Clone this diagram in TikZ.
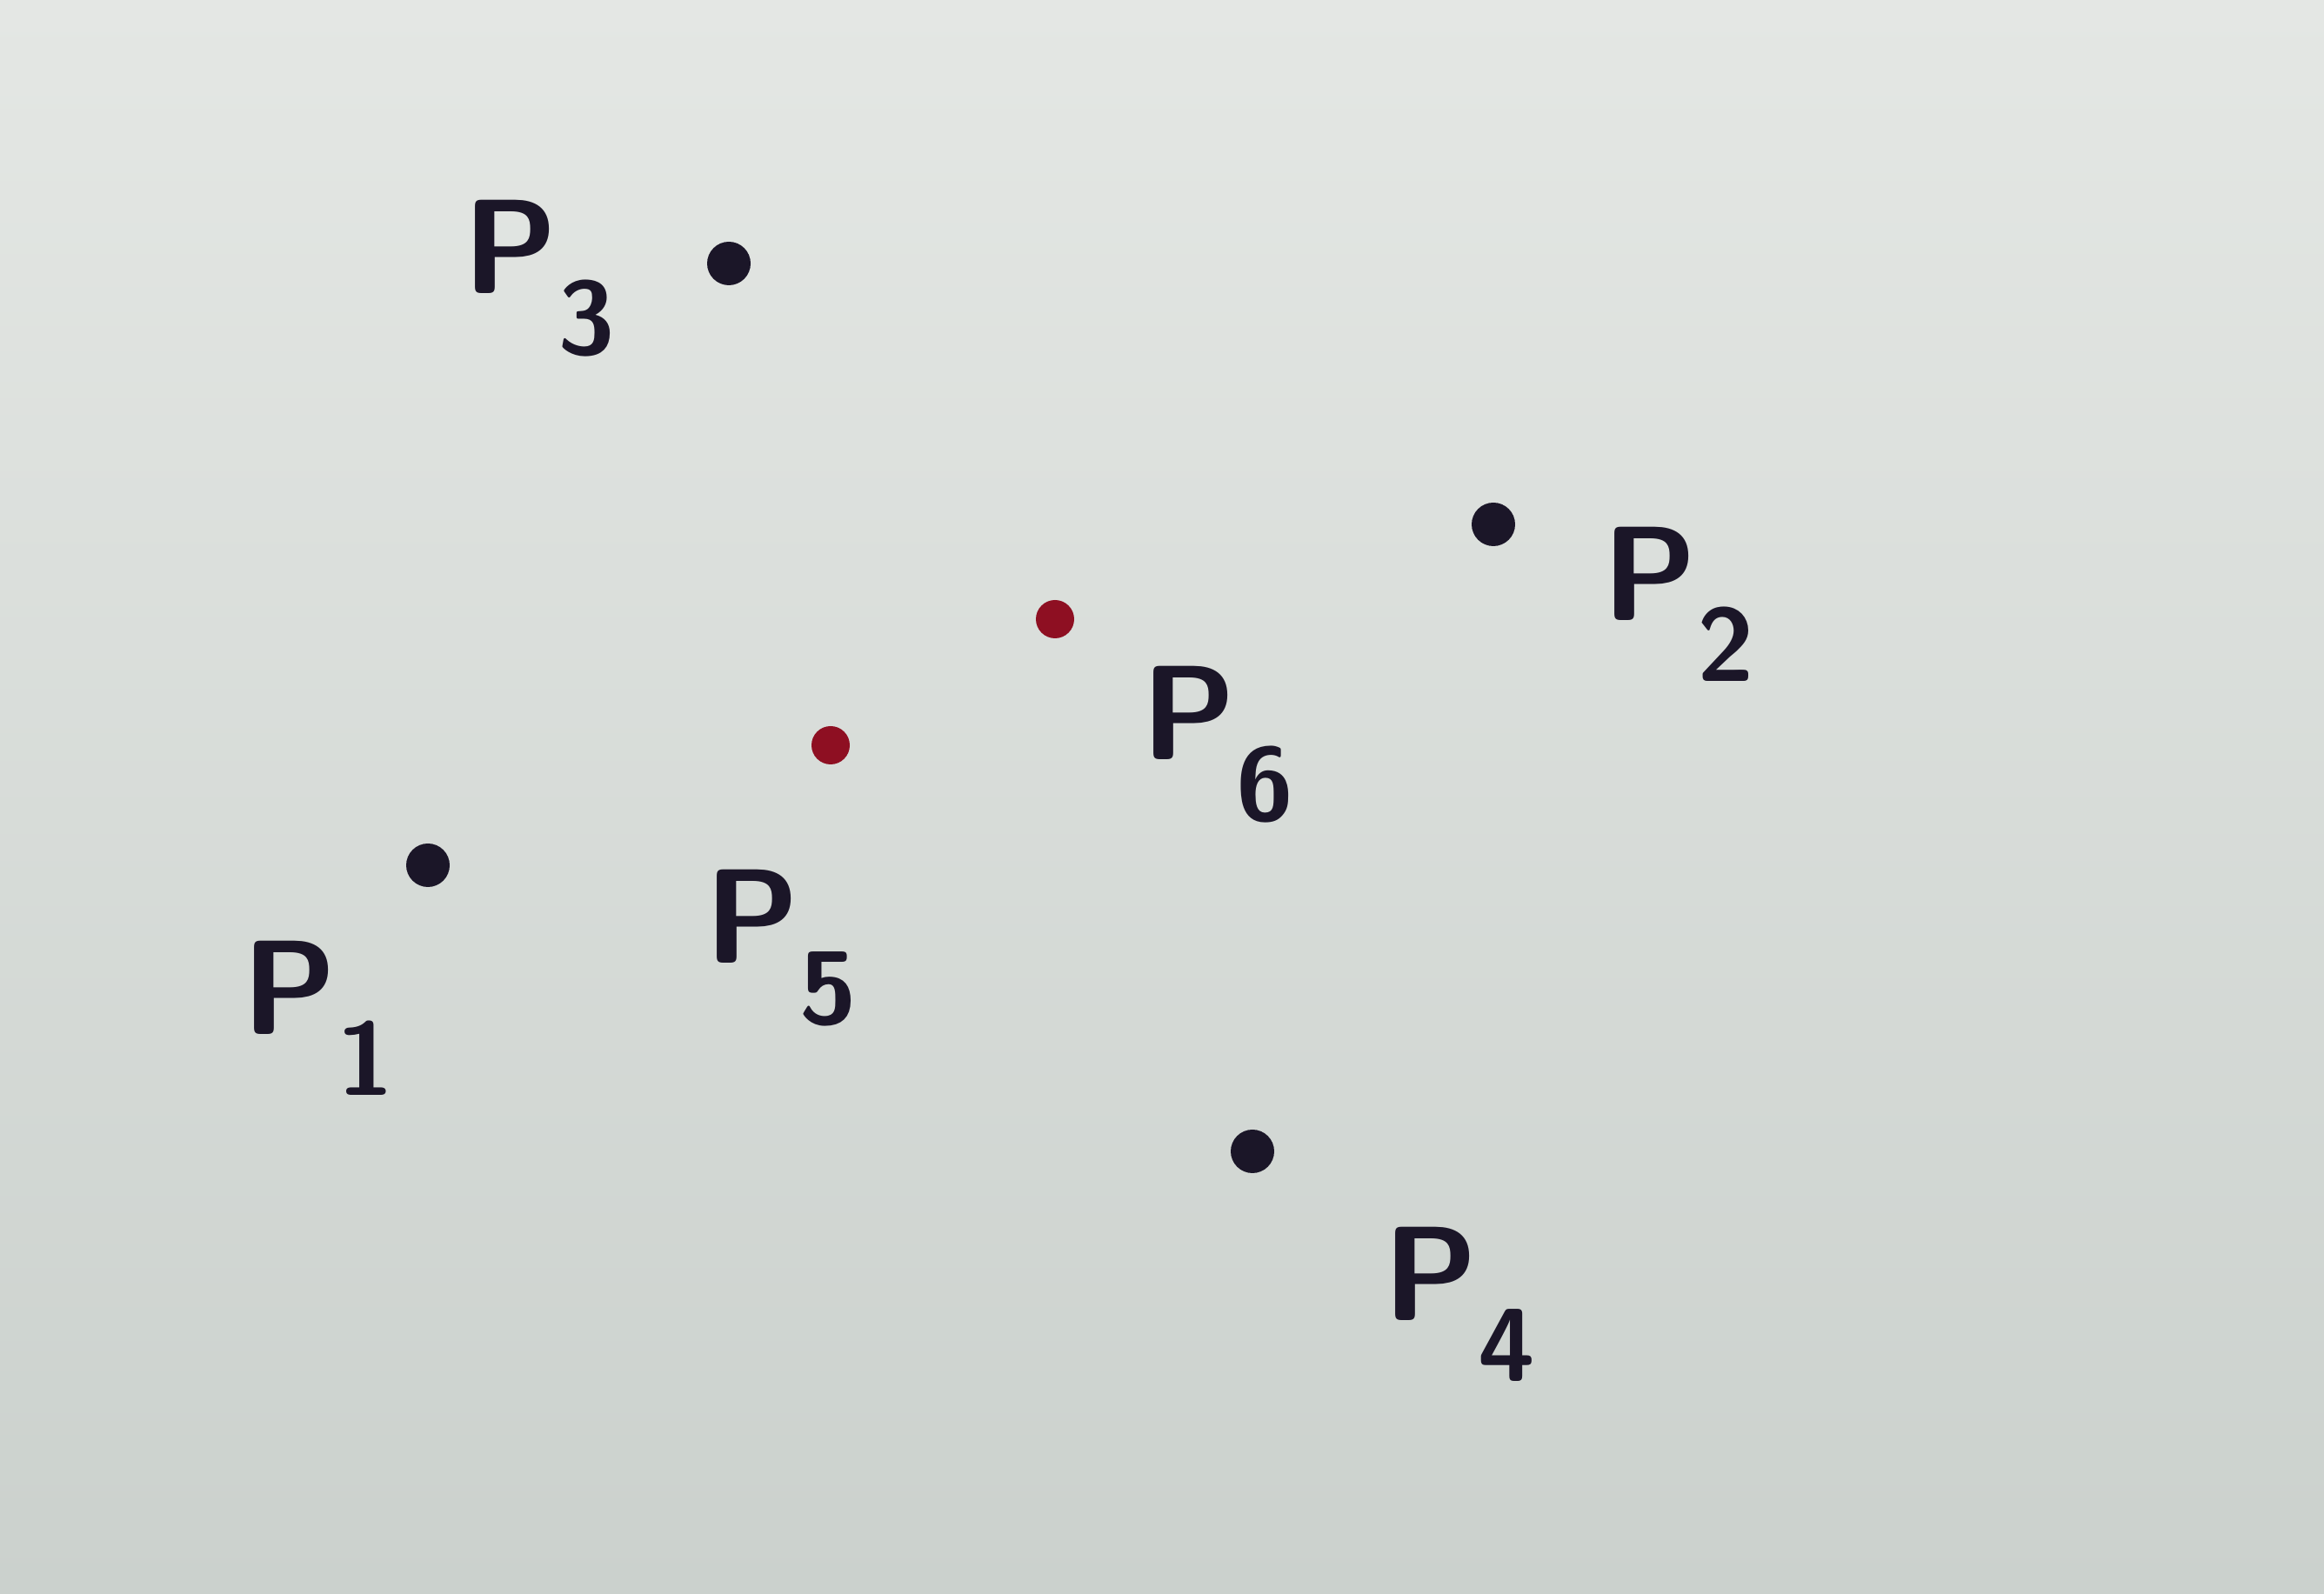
\documentclass[tikz,border=0pt]{standalone}
\usepackage{tikz}
\usetikzlibrary{calc}
\definecolor{paperlight}{RGB}{228,231,228}
\definecolor{paperdark}{RGB}{203,209,205}
\definecolor{inkblack}{HTML}{1B1628}
\definecolor{inkred}{HTML}{8E0F22}
\newcommand{\psub}[1]{\raisebox{-0.45em}{\fontsize{34}{40}\selectfont #1}}
\tikzset{
  pt/.style={circle,fill=#1,inner sep=0pt,minimum size=0.5cm},
  ptlabel/.style={text=inkblack,font=\fontsize{44}{52}\selectfont\sffamily\bfseries}
}

\begin{document}
\begin{tikzpicture}
    \shade[top color=paperlight,bottom color=paperdark] (0,0) rectangle (26.72,18.33);
    \useasboundingbox (0,0) rectangle (26.72,18.33);
    % black points
    \node[pt=inkblack] (p1) at (4.92,8.38) {};
    \node[pt=inkblack] (p2) at (17.17,12.30) {};
    \node[pt=inkblack] (p3) at (8.38,15.30) {};
    \node[pt=inkblack] (p4) at (14.40,5.09) {};
    % red points
    \node[pt=inkred,minimum size=0.44cm] (p5) at (9.55,9.76) {};
    \node[pt=inkred,minimum size=0.44cm] (p6) at (12.13,11.21) {};
    % labels
    \node[ptlabel] (l1) at (3.66,6.62) {P\psub{1}};
    \node[ptlabel] (l2) at (19.30,11.38) {P\psub{2}};
    \node[ptlabel] (l3) at (6.20,15.13) {P\psub{3}};
    \node[ptlabel] (l4) at (16.78,3.33) {P\psub{4}};
    \node[ptlabel] (l5) at (8.98,7.43) {P\psub{5}};
    \node[ptlabel] (l6) at (14.00,9.77) {P\psub{6}};
  \end{tikzpicture}
\end{document}
